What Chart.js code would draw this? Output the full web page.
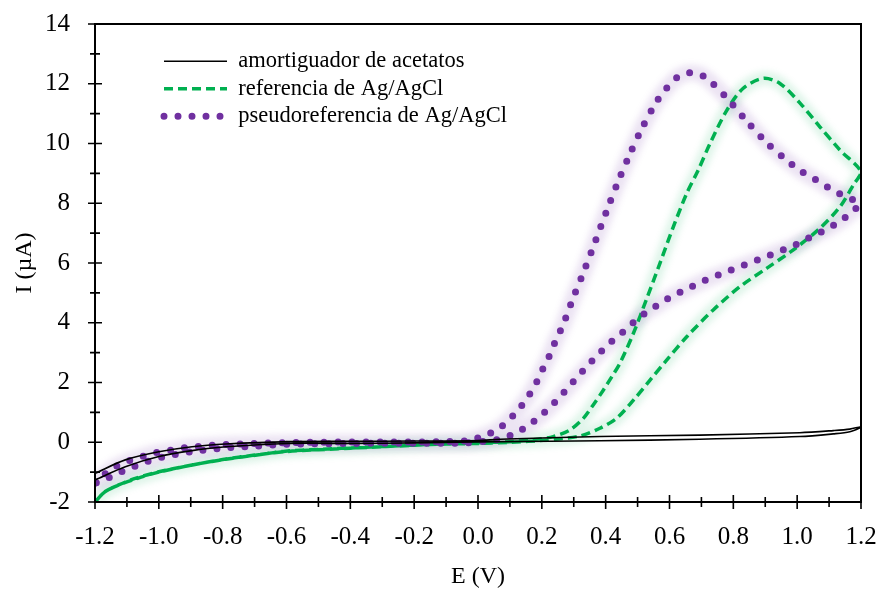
<!DOCTYPE html>
<html>
<head>
<meta charset="utf-8">
<script src="https://cdn.jsdelivr.net/npm/chart.js@4/dist/chart.umd.min.js"></script>
<style>
  body { margin: 0; background: #fff; }
</style>
</head>
<body>
<canvas id="chart_cv" width="879" height="592"></canvas>
<script>
// Data (E in V, I in uA)
series_labels = ["amortiguador de acetatos", "referencia de Ag/AgCl", "pseudoreferencia de Ag/AgCl"]

buffer_E_fwd = [-1.2, -1.105, -1.0, -0.896, -0.79, -0.593, -0.4, -0.2, 0.0, 0.069, 0.382, 0.695, 1.008, 1.113, 1.165, 1.2]
buffer_I_fwd = [-1.04, -0.59, -0.32, -0.15, -0.06, 0.02, 0.03, 0.04, 0.06, 0.10, 0.19, 0.24, 0.32, 0.39, 0.44, 0.52]
buffer_E_rev = [1.2, 1.165, 1.113, 1.008, 0.695, 0.382, 0.069, -0.2, -0.4, -0.593, -0.79, -0.896, -1.0, -1.105, -1.2]
buffer_I_rev = [0.50, 0.35, 0.28, 0.19, 0.10, 0.05, 0.02, -0.02, -0.04, -0.04, -0.15, -0.28, -0.48, -0.82, -1.26]

ref_E_fwd = [-1.2, -1.168, -1.126, -1.074, -1.0, -0.896, -0.792, -0.687, -0.604, -0.5, -0.4, -0.3, -0.2, -0.1, 0.0, 0.1, 0.163, 0.236, 0.288, 0.330, 0.361, 0.393, 0.419, 0.445, 0.487, 0.529, 0.570, 0.612, 0.654, 0.690, 0.727, 0.779, 0.831, 0.894, 0.946, 1.009, 1.071, 1.134, 1.2]
ref_I_fwd = [-2.0, -1.65, -1.43, -1.21, -0.99, -0.76, -0.57, -0.42, -0.30, -0.24, -0.19, -0.14, -0.09, -0.05, -0.02, 0.02, 0.075, 0.19, 0.41, 0.80, 1.25, 1.75, 2.19, 2.65, 3.65, 4.82, 5.99, 7.21, 8.33, 9.11, 10.0, 11.1, 11.85, 12.18, 12.01, 11.35, 10.56, 9.78, 9.05]
ref_E_rev = [1.176, 1.134, 1.071, 0.988, 0.904, 0.821, 0.737, 0.654, 0.591, 0.539, 0.487, 0.434, 0.382, 0.32, 0.215, 0.1, 0.0, -0.1, -0.2, -0.3, -0.4, -0.5, -0.6, -0.7, -0.8, -0.9, -1.0, -1.07, -1.13, -1.17, -1.2]
ref_I_rev = [8.61, 7.88, 7.16, 6.44, 5.82, 5.21, 4.43, 3.53, 2.75, 2.08, 1.41, 0.80, 0.47, 0.21, 0.075, 0.0, -0.04, -0.06, -0.1, -0.15, -0.2, -0.25, -0.31, -0.43, -0.58, -0.77, -1.0, -1.22, -1.45, -1.67, -2.0]

pseudo_E_fwd = [-1.2, -1.173, -1.136, -1.094, -1.047, -1.006, -0.959, -0.912, -0.865, -0.817, -0.7, -0.6, -0.5, -0.4, -0.3, -0.2, -0.1, -0.03, 0.025, 0.064, 0.100, 0.132, 0.160, 0.184, 0.205, 0.226, 0.244, 0.265, 0.299, 0.335, 0.369, 0.403, 0.438, 0.476, 0.516, 0.563, 0.593, 0.628, 0.670, 0.712, 0.779, 0.842, 0.904, 0.960, 1.014, 1.056, 1.094, 1.134, 1.176, 1.195]
pseudo_I_fwd = [-1.37, -1.10, -0.82, -0.62, -0.46, -0.34, -0.26, -0.17, -0.13, -0.09, -0.04, -0.01, 0.0, 0.01, 0.01, 0.01, 0.02, 0.06, 0.24, 0.45, 0.78, 1.16, 1.58, 2.02, 2.50, 2.95, 3.42, 3.89, 4.85, 5.81, 6.77, 7.74, 8.70, 9.65, 10.56, 11.46, 11.88, 12.24, 12.37, 12.22, 11.53, 10.75, 10.03, 9.50, 9.06, 8.80, 8.55, 8.31, 8.11, 7.95]
pseudo_E_rev = [1.181, 1.144, 1.106, 1.066, 1.024, 0.983, 0.941, 0.897, 0.854, 0.810, 0.769, 0.727, 0.685, 0.643, 0.602, 0.563, 0.523, 0.487, 0.453, 0.416, 0.382, 0.349, 0.317, 0.286, 0.255, 0.222, 0.187, 0.149, 0.111, 0.069, 0.025, -0.05, -0.2, -0.4, -0.6, -0.7, -0.8, -0.9, -0.99, -1.037, -1.079, -1.12, -1.162, -1.2]
pseudo_I_rev = [7.80, 7.47, 7.21, 6.99, 6.77, 6.55, 6.38, 6.19, 6.01, 5.84, 5.66, 5.49, 5.29, 5.07, 4.85, 4.59, 4.32, 4.01, 3.68, 3.35, 3.0, 2.63, 2.25, 1.88, 1.50, 1.14, 0.80, 0.50, 0.27, 0.11, 0.04, -0.03, -0.03, -0.04, -0.07, -0.13, -0.2, -0.32, -0.50, -0.65, -0.82, -1.0, -1.21, -1.37]

function loop(E1, I1, E2, I2) {
  var pts = E1.map(function(e, k) { return {x: e, y: I1[k]} })
  return pts.concat(E2.map(function(e, k) { return {x: e, y: I2[k]} }))
}

var buffer_pts = loop(buffer_E_fwd, buffer_I_fwd, buffer_E_rev, buffer_I_rev)
var ref_pts = loop(ref_E_fwd, ref_I_fwd, ref_E_rev, ref_I_rev)
var pseudo_pts = loop(pseudo_E_fwd, pseudo_I_fwd, pseudo_E_rev, pseudo_I_rev)

var SERIF = "'Liberation Serif', 'Times New Roman', serif"
Chart.defaults.font.family = SERIF
Chart.defaults.color = "#000"

// soft halo behind green / purple curves
var glowPlugin = {
  id: 'glow',
  beforeDatasetDraw: function(chart, args) {
    var ds = chart.data.datasets[args.index]
    if (ds.glow) { chart.ctx.save(); chart.ctx.filter = 'blur(3px)' }
  },
  afterDatasetDraw: function(chart, args) {
    var ds = chart.data.datasets[args.index]
    if (ds.glow) chart.ctx.restore()
  }
}

// frame + ticks that cross the axes, major and minor
var framePlugin = {
  id: 'frame',
  afterLayout: function(chart) {
    // legend sits inside the plot, offset from the top-left corner
    chart.legend.left = chart.chartArea.left + 64
    chart.legend.top = chart.chartArea.top + 21
  },
  afterDraw: function(chart) {
    var ctx = chart.ctx, a = chart.chartArea
    var xs = chart.scales.x, ys = chart.scales.y
    ctx.save()
    ctx.strokeStyle = "#000"
    ctx.lineWidth = 2
    ctx.strokeRect(a.left, a.top, a.right - a.left, a.bottom - a.top)
    ctx.lineWidth = 1.6
    ctx.beginPath()
    for (var i = -12; i <= 12; i++) {
      var px = xs.getPixelForValue(i / 10)
      var len = (i % 2 === 0) ? 7 : 5
      ctx.moveTo(px, a.bottom - len)
      ctx.lineTo(px, a.bottom + len)
    }
    for (var j = -2; j <= 14; j++) {
      var py = ys.getPixelForValue(j)
      var l2 = (j % 2 === 0) ? 7 : 5
      ctx.moveTo(a.left - l2, py)
      ctx.lineTo(a.left + l2, py)
    }
    ctx.stroke()
    ctx.restore()
  }
}

var config = {
  type: 'scatter',
  data: {
    datasets: [{
      label: series_labels[0],
      data: buffer_pts,
      showLine: true,
      borderColor: "#000000",
      backgroundColor: "#000000",
      borderWidth: 1.6,
      tension: 0.3,
      pointRadius: 0
    }, {
      label: series_labels[2],
      data: pseudo_pts,
      showLine: true,
      borderColor: "#7030A0",
      backgroundColor: "#7030A0",
      borderWidth: 7,
      borderDash: [0, 14],
      borderCapStyle: 'round',
      tension: 0.3,
      pointRadius: 0
    }, {
      label: series_labels[1],
      data: ref_pts,
      showLine: true,
      borderColor: "#00B050",
      backgroundColor: "#00B050",
      borderWidth: 3.5,
      borderDash: [9, 5],
      tension: 0.3,
      pointRadius: 0
    }, {
      data: pseudo_pts,
      glow: true,
      showLine: true,
      borderColor: "rgba(112, 48, 160, 0.13)",
      borderWidth: 16,
      tension: 0.3,
      pointRadius: 0
    }, {
      data: ref_pts,
      glow: true,
      showLine: true,
      borderColor: "rgba(0, 176, 80, 0.12)",
      borderWidth: 14,
      tension: 0.3,
      pointRadius: 0
    }]
  },
  options: {
    responsive: false,
    animation: false,
    layout: { padding: { top: 24, right: 18, left: 0, bottom: 0 } },
    plugins: {
      tooltip: { enabled: false },
      legend: {
        display: true,
        position: 'chartArea',
        align: 'start',
        labels: {
          usePointStyle: true,
          pointStyle: 'line',
          pointStyleWidth: 63,
          padding: 5,
          color: "#000",
          font: { family: SERIF, size: 22.5 },
          generateLabels: function(chart) {
            var items = Chart.defaults.plugins.legend.labels.generateLabels(chart)
            items.forEach(function(it) {
              var ds = chart.data.datasets[it.datasetIndex]
              it.strokeStyle = ds.borderColor
              it.lineWidth = ds.borderWidth
              it.lineDash = ds.borderDash || []
              it.lineCap = ds.borderCapStyle || 'butt'
              it.pointStyle = 'line'
            })
            return items
          },
          sort: function(a, b) {
            return series_labels.indexOf(a.text) - series_labels.indexOf(b.text)
          },
          filter: function(item) { return item.datasetIndex < 3 }
        }
      }
    },
    scales: {
      x: {
        type: 'linear',
        min: -1.2,
        max: 1.2,
        grid: { display: false, drawTicks: false },
        border: { display: false },
        ticks: {
          stepSize: 0.2,
          padding: 20,
          maxRotation: 0,
          font: { family: SERIF, size: 25 },
          callback: function(v) { return v.toFixed(1) }
        },
        title: {
          display: true,
          text: 'E (V)',
          font: { family: SERIF, size: 24 },
          padding: { top: 0, bottom: 1 }
        },
        afterFit: function(scale) {
          scale.height = 90
          scale.paddingLeft = 0
          scale.paddingRight = 0
        }
      },
      y: {
        type: 'linear',
        min: -2,
        max: 14,
        grid: { display: false, drawTicks: false },
        border: { display: false },
        ticks: {
          stepSize: 2,
          padding: 25,
          font: { family: SERIF, size: 25 },
          callback: function(v) { return String(Math.round(v)) }
        },
        title: {
          display: true,
          text: 'I (\u00B5A)',
          font: { family: SERIF, size: 24 },
          padding: { top: 10, bottom: 0 }
        },
        afterFit: function(scale) {
          scale.width = 95
          scale.paddingTop = 0
          scale.paddingBottom = 0
        }
      }
    }
  },
  plugins: [glowPlugin, framePlugin]
};

var ctx = document.getElementById("chart_cv");
var ch_cv = new Chart(ctx, config);
</script>
</body>
</html>
